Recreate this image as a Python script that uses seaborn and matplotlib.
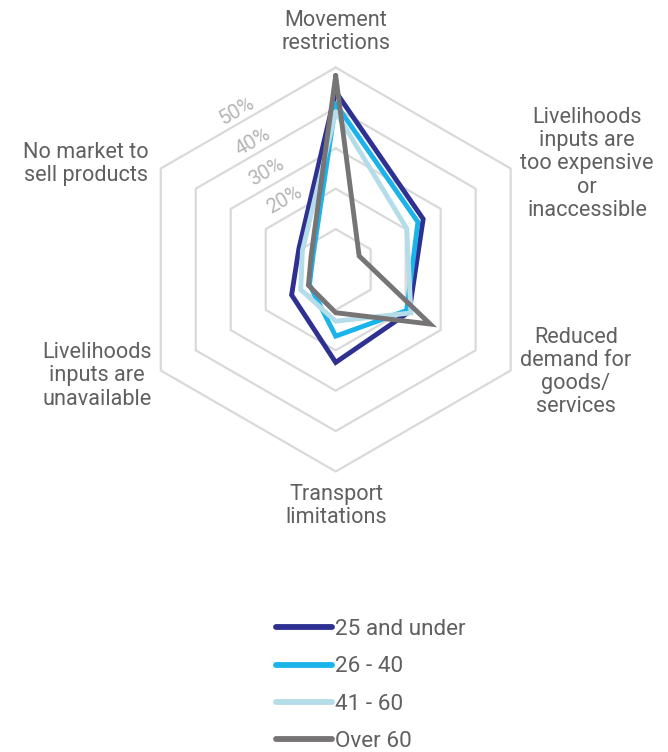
import numpy as np
import pandas as pd
import matplotlib
matplotlib.use("Agg")
import matplotlib.pyplot as plt
from matplotlib.lines import Line2D
import seaborn as sns

sns.set_theme(style="white")
plt.rcParams["font.family"] = ["Roboto", "DejaVu Sans"]

# Axes, clockwise from the top
categories = [
    "Movement\nrestrictions",
    "Livelihoods\ninputs are\ntoo expensive\nor\ninaccessible",
    "Reduced\ndemand for\ngoods/\nservices",
    "Transport\nlimitations",
    "Livelihoods\ninputs are\nunavailable",
    "No market to\nsell products",
]

# Share of respondents (%) per age group
age_25_under = [44, 25, 21, 23, 12.6, 10.5]
age_26_40 = [41, 23.5, 20.3, 16.5, 7.5, 6.5]
age_41_60 = [39, 20.3, 21.5, 12.8, 10, 9.5]
age_over_60 = [48, 6.7, 27, 10.7, 7.8, 7]

groups = ["25 and under", "26 - 40", "41 - 60", "Over 60"]
series = [age_25_under, age_26_40, age_41_60, age_over_60]
colors = ["#2e3192", "#1ab4ea", "#b5dde9", "#767474"]

ring_values = [10, 20, 30, 40, 50]
ring_labels = ["20%", "30%", "40%", "50%"]

W, H = 668, 752
n = len(categories)
theta = np.linspace(0, 2 * np.pi, n, endpoint=False)
theta_closed = np.append(theta, 2 * np.pi)

rows = []
for g, vals in zip(groups, series):
    for t, v in zip(theta_closed, list(vals) + [vals[0]]):
        rows.append({"theta": t, "value": v, "group": g})
df = pd.DataFrame(rows)

fig = plt.figure(figsize=(W / 100, H / 100), dpi=100)
cx, cy, R = 335.7, 269.5, 202.0
ax = fig.add_axes([(cx - R) / W, 1 - (cy + R) / H, 2 * R / W, 2 * R / H],
                  projection="polar")
ax.set_theta_zero_location("N")
ax.set_theta_direction(-1)
ax.set_ylim(0, 50)
ax.grid(False)
ax.spines["polar"].set_visible(False)
ax.set_xticks([])
ax.set_yticks([])
ax.patch.set_alpha(0)

# hexagonal grid rings
for v in ring_values:
    ax.plot(theta_closed, [v] * len(theta_closed), color="#d9d9d9", lw=1.6,
            zorder=1, clip_on=False)

sns.lineplot(data=df, x="theta", y="value", hue="group", hue_order=groups,
             palette=dict(zip(groups, colors)), sort=False, estimator=None,
             linewidth=3.5, ax=ax, legend=False, zorder=3)
for line in ax.get_lines()[len(ring_values):]:
    line.set_solid_joinstyle("miter")
    line.set_clip_on(False)
ax.set_xlabel("")
ax.set_ylabel("")

# ring value labels along the upper-left edge
label_pos = {"20%": (-36.6, 21.4), "30%": (-35.2, 29.6),
             "40%": (-32.8, 37.6), "50%": (-32.0, 46.3)}
for lab in ring_labels:
    ang, rr = label_pos[lab]
    ax.text(np.deg2rad(ang), rr, lab, rotation=30, ha="center", va="center",
            color="#b5b5b5", fontsize=14.5, rotation_mode="anchor")

# category labels
cat_pos = [(336, 32), (587, 164), (576, 372), (336, 506), (97, 376), (86, 164)]
for lab, (px, py) in zip(categories, cat_pos):
    fig.text(px / W, 1 - py / H, lab, ha="center", va="center",
             multialignment="center", color="#606060", fontsize=15.6,
             linespacing=1.13)

handles = [Line2D([0], [0], color=c, lw=4.2, solid_capstyle="round") for c in colors]
fig.legend(handles, groups, loc="upper left",
           bbox_to_anchor=(276 / W, 1 - 619 / H), frameon=False,
           handlelength=2.5, handletextpad=0.12,
           labelspacing=0.73, borderpad=0, borderaxespad=0,
           prop={"size": 16.2}, labelcolor="#606060")

fig.savefig("out.png", dpi=100)
